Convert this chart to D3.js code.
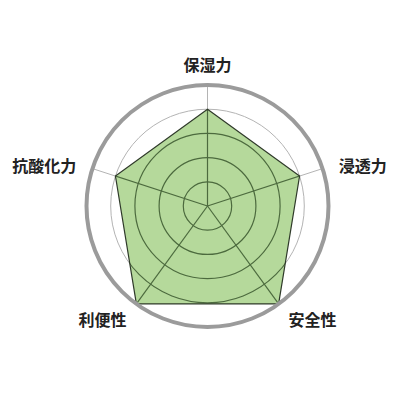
<!DOCTYPE html>
<html>
<head>
<meta charset="utf-8">
<script src="https://cdn.jsdelivr.net/npm/d3@7"></script>
<style>
  body { margin: 0; background: #fff; }
  .label { font-family: "Noto Sans CJK JP", "Noto Sans", sans-serif; font-size: 16px; font-weight: bold; fill: #222; }
</style>
</head>
<body>
<div id="chart"></div>
<script>
// axis names clockwise from the top
const axes = ['保湿力', '浸透力', '安全性', '利便性', '抗酸化力'];
const values = [4, 4, 5, 5, 4];
const ringLevels = [1, 2, 3, 4];
const maxValue = 5;

const width = 416, height = 416;
const cx = 207.5, cy = 206, radius = 121;

const svg = d3.select('#chart').append('svg')
  .attr('width', width)
  .attr('height', height);

const g = svg.append('g').attr('transform', `translate(${cx}, ${cy})`);

const rScale = d3.scaleLinear().domain([0, maxValue]).range([0, radius]);
const angle = i => (i / axes.length) * 2 * Math.PI;

// polygon path generator
const radar = d3.lineRadial()
  .angle((d, i) => angle(i))
  .radius(d => rScale(d))
  .curve(d3.curveLinearClosed);

// grid (rings + spokes) drawn into a group so we can reuse it
function drawGrid(parent, color, width) {
  parent.selectAll('.ring')
    .data(ringLevels)
    .join('circle')
    .attr('class', 'ring')
    .attr('r', d => rScale(d))
    .attr('fill', 'none')
    .attr('stroke', color)
    .attr('stroke-width', width);

  parent.selectAll('.spoke')
    .data(axes)
    .join('line')
    .attr('class', 'spoke')
    .attr('x1', 0).attr('y1', 0)
    .attr('x2', (d, i) => rScale(maxValue) * Math.sin(angle(i)))
    .attr('y2', (d, i) => -rScale(maxValue) * Math.cos(angle(i)))
    .attr('stroke', color)
    .attr('stroke-width', width);
}

// light grid outside the shape
drawGrid(g.append('g'), '#b4b4b4', 1);

// data shape
g.append('path')
  .datum(values)
  .attr('d', radar)
  .attr('fill', '#b5d99b');

// darker grid inside the shape
svg.append('defs').append('clipPath')
  .attr('id', 'shape-clip')
  .append('path')
  .datum(values)
  .attr('d', radar);

drawGrid(g.append('g').attr('clip-path', 'url(#shape-clip)'), '#4c6a3e', 1.2);

g.append('path')
  .datum(values)
  .attr('d', radar)
  .attr('fill', 'none')
  .attr('stroke', '#2f3a2a')
  .attr('stroke-width', 1.2)
  .attr('stroke-linejoin', 'miter');

// outer thick ring
g.append('circle')
  .attr('r', rScale(maxValue))
  .attr('fill', 'none')
  .attr('stroke', '#9b9b9b')
  .attr('stroke-width', 4);

// axis labels
const labelR = 138;
g.selectAll('.label')
  .data(axes)
  .join('text')
  .attr('class', 'label')
  .attr('x', (d, i) => labelR * Math.sin(angle(i)))
  .attr('y', (d, i) => -labelR * Math.cos(angle(i)))
  .attr('dy', (d, i) => i === 0 ? '0.2em' : '0.55em')
  .attr('text-anchor', (d, i) => {
    const s = Math.sin(angle(i));
    if (Math.abs(s) < 0.01) return 'middle';
    return s > 0 ? 'start' : 'end';
  })
  .text(d => d);
</script>
</body>
</html>
